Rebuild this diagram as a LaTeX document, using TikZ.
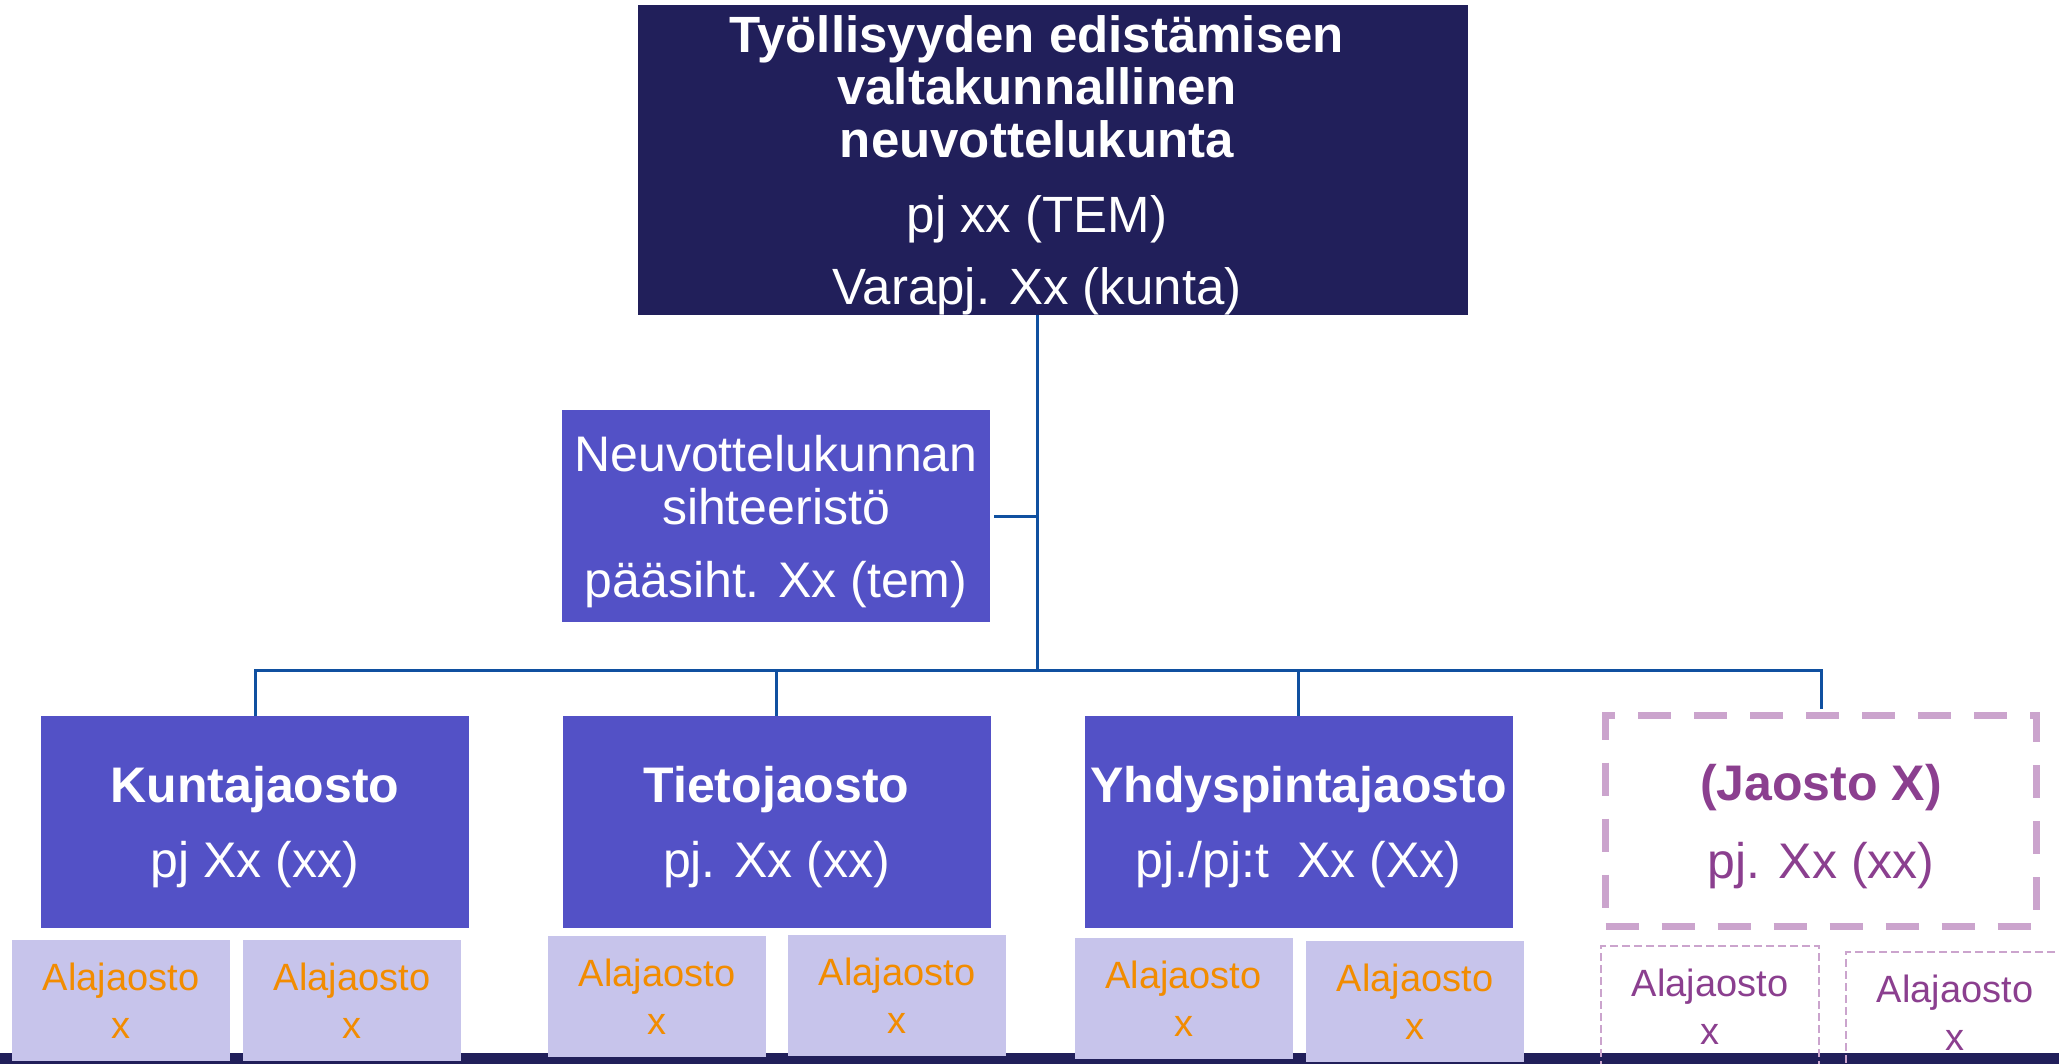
\documentclass[tikz,border=0pt]{standalone}
\usepackage{fontspec}
\setmainfont{Liberation Sans}
\usepackage{tikz}

\definecolor{navy}{RGB}{33,31,90}
\definecolor{violetblue}{RGB}{83,81,198}
\definecolor{lavender}{RGB}{199,196,235}
\definecolor{orangetxt}{RGB}{242,140,0}
\definecolor{plum}{RGB}{139,63,143}
\definecolor{lilac}{RGB}{203,164,205}
\definecolor{lineblue}{RGB}{16,80,160}

\tikzset{
  board/.style={fill=navy, text=white, minimum width=415pt, minimum height=155pt,
    inner sep=0pt, text depth=-0.5pt, font=\fontsize{25.5}{26}\selectfont},
  jaosto/.style={fill=violetblue, text=white, minimum width=214pt, minimum height=106pt,
    inner sep=0pt, align=center, text depth=-1.5pt, font=\fontsize{25}{26.5}\selectfont},
  rowjaosto/.style={jaosto, text depth=-3pt},
  xjaosto/.style={draw=lilac, line width=3.5pt, dash pattern=on 16.5pt off 11.5pt,
    text=plum, minimum width=215.5pt, minimum height=105.5pt,
    inner sep=0pt, align=center, text depth=-2pt, font=\fontsize{25}{26}\selectfont},
  alajaosto/.style={fill=lavender, text=orangetxt, minimum width=109pt, minimum height=60.5pt,
    inner sep=0pt, align=center, text depth=-6pt, font=\fontsize{19}{24}\selectfont},
  xalajaosto/.style={draw=lilac, line width=0.6pt, dash pattern=on 4pt off 2pt,
    text=plum, minimum width=109pt, minimum height=60.5pt,
    inner sep=0pt, align=center, text depth=-6pt, font=\fontsize{19}{24}\selectfont},
  conn/.style={draw=lineblue, line width=1.5pt}
}

\begin{document}
\begin{tikzpicture}[x=0.5pt, y=-0.5pt]
  \useasboundingbox (0,0) rectangle (2059,1064);
  \clip (0,0) rectangle (2059,1064);
  \fill[navy] (0,1053) rectangle (2059,1064);

  \node[board] (Board) at (1053,160) {\begin{tabular}[b]{@{}c@{\hspace{16pt}}}
      \textbf{Työllisyyden edistämisen}\\ \textbf{valtakunnallinen}\\
      \textbf{neuvottelukunta}\\[11pt] pj xx (TEM)\\[10pt] Varapj. Xx (kunta)
    \end{tabular}};
  \node[jaosto] (Secretariat) at (776,516) {Neuvottelukunnan\\ sihteeristö\\[10pt]
    pääsiht. Xx (tem)};

  \node[rowjaosto] (Kunta) at (255,822) {\textbf{Kuntajaosto}\\[11pt] pj Xx (xx)};
  \node[rowjaosto] (Tieto) at (776.5,822) {\textbf{Tietojaosto}\\[11pt] pj. Xx (xx)};
  \node[rowjaosto] (Yhdys) at (1298.5,822) {\textbf{Yhdyspintajaosto}\\[11pt]
    pj./pj:t~~Xx (Xx)};
  \node[xjaosto] (JaostoX) at (1821,821) {\textbf{(Jaosto X)}\\[13pt] pj. Xx (xx)};

  \node[alajaosto] (KuntaA) at (121,1000.5) {Alajaosto\\ x};
  \node[alajaosto] (KuntaB) at (352,1000.5) {Alajaosto\\ x};
  \node[alajaosto] (TietoA) at (657,996.5) {Alajaosto\\ x};
  \node[alajaosto] (TietoB) at (897,995.5) {Alajaosto\\ x};
  \node[alajaosto] (YhdysA) at (1183.5,998.5) {Alajaosto\\ x};
  \node[alajaosto] (YhdysB) at (1415,1001.5) {Alajaosto\\ x};
  \node[xalajaosto] (JaostoXA) at (1710,1006.5) {Alajaosto\\ x};
  \node[xalajaosto] (JaostoXB) at (1955,1012.5) {Alajaosto\\ x};

  \coordinate (Bus) at (1037,670);
  \draw[conn] (Board.south -| Bus) -- (Bus);
  \draw[conn, shorten <=2pt] (Secretariat.east) -- (Secretariat.east -| Bus);
  \draw[conn] (Kunta.north) |- (Bus);
  \draw[conn] (Tieto.north) |- (Bus);
  \draw[conn] (Yhdys.north) |- (Bus);
  \draw[conn, shorten <=1.5pt] (JaostoX.north) |- (Bus);
\end{tikzpicture}
\end{document}
